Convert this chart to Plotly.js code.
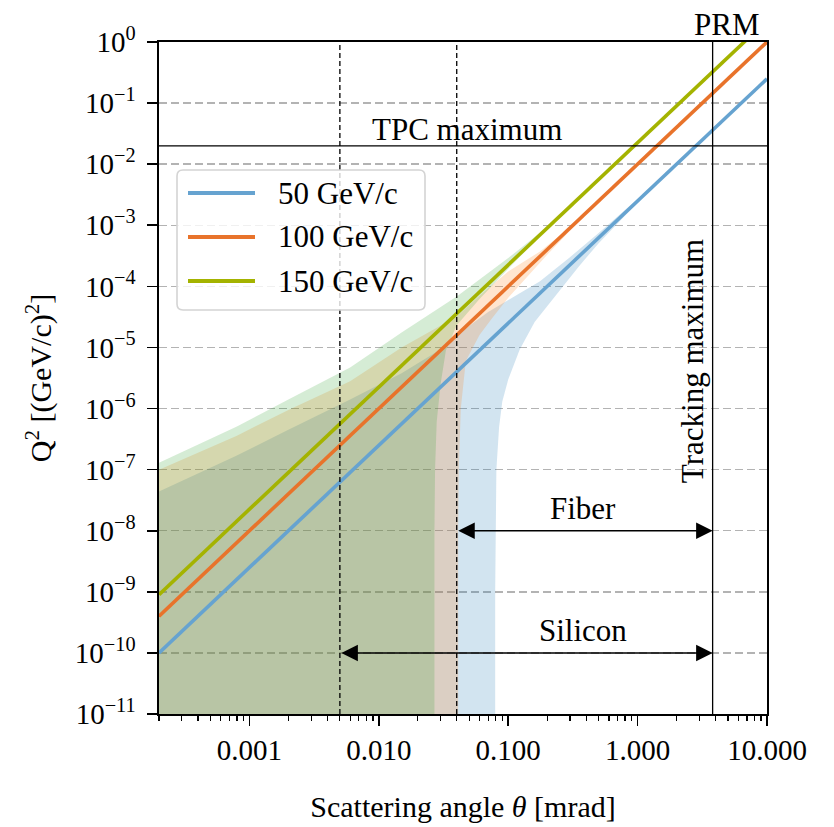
<!DOCTYPE html>
<html>
<head>
<meta charset="utf-8">
<script src="https://cdn.plot.ly/plotly-3.0.1.min.js"></script>
<style>
  html, body { margin: 0; padding: 0; background: #ffffff; }
  #chart { width: 834px; height: 827px; }
</style>
</head>
<body>
<div id="chart"></div>
<script>
// Beam momenta and their colours
const momentumLabels = ['50 GeV/c', '100 GeV/c', '150 GeV/c'];
const lineColors = ['#66a3d0', '#e8732b', '#a4b300'];
const bandColors = ['rgba(31,119,180,0.2)', 'rgba(255,127,14,0.2)', 'rgba(44,160,44,0.2)'];

// Central Q^2 vs scattering angle (mrad)
const lineTheta = [0.0002, 0.001, 0.01, 0.1, 1, 10];
const q2_50  = [1.0e-10, 2.5e-9, 2.5e-7, 2.5e-5, 2.5e-3, 0.25];
const q2_100 = [4.0e-10, 1.0e-8, 1.0e-6, 1.0e-4, 1.0e-2, 1.0];
const q2_150 = [9.0e-10, 2.25e-8, 2.25e-6, 2.25e-4, 2.25e-2, 2.25];

// Resolution bands: upper edge left to right, lower edge right to left
const band50UpperTheta = [0.0002, 0.0008, 0.002, 0.006, 0.015, 0.028, 0.04, 0.07, 0.12, 0.175, 0.3, 0.5, 1.0, 1.5];
const band50Upper      = [4.4e-8, 1.7e-7, 4.5e-7, 1.4e-6, 3.8e-6, 8.5e-6, 1.6e-5, 3.8e-5, 7.5e-5, 1.2e-4, 3.0e-4, 7.5e-4, 2.7e-3, 5.7e-3];
const band50LowerTheta = [1.5, 1.0, 0.5, 0.35, 0.22, 0.16, 0.1225, 0.1, 0.09, 0.085, 0.081, 0.0797, 0.0793, 0.0793];
const band50Lower      = [5.5e-3, 2.35e-3, 5.1e-4, 2.1e-4, 6.0e-5, 2.6e-5, 9.2e-6, 3.0e-6, 1.3e-6, 5.0e-7, 1.0e-7, 1.0e-8, 1.0e-9, 1.0e-13];

const band100UpperTheta = [0.0002, 0.0008, 0.002, 0.006, 0.015, 0.04, 0.06, 0.1, 0.175, 0.3, 0.4];
const band100Upper      = [1.0e-7, 3.6e-7, 9.5e-7, 2.8e-6, 1.0e-5, 3.2e-5, 7.0e-5, 1.75e-4, 3.7e-4, 9.3e-4, 1.6e-3];
const band100LowerTheta = [0.4, 0.2, 0.1, 0.075, 0.06, 0.047, 0.043, 0.0415, 0.041, 0.041];
const band100Lower      = [1.55e-3, 3.3e-4, 6.5e-5, 3.0e-5, 1.6e-5, 6.0e-6, 1.0e-6, 1.0e-7, 1.0e-8, 1.0e-13];

const band150UpperTheta = [0.0002, 0.0008, 0.002, 0.006, 0.015, 0.04, 0.06, 0.1, 0.2, 0.3];
const band150Upper      = [1.3e-7, 5.1e-7, 1.4e-6, 4.7e-6, 1.75e-5, 6.8e-5, 1.3e-4, 2.9e-4, 9.4e-4, 2.03e-3];
const band150LowerTheta = [0.3, 0.2, 0.1, 0.06, 0.04, 0.033, 0.03, 0.028, 0.0272, 0.0269, 0.0269];
const band150Lower      = [2.0e-3, 8.7e-4, 1.95e-4, 6.2e-5, 2.3e-5, 9.0e-6, 2.5e-6, 6.0e-7, 1.0e-7, 1.0e-8, 1.0e-13];

// Detector limits
const tpcMaxQ2 = 0.02;
const trackingMaxTheta = 3.8;
const siliconMinTheta = 0.005;
const fiberMinTheta = 0.04;
const fiberArrowQ2 = 1e-8;
const siliconArrowQ2 = 1e-10;

// Axis ticks
const xTickVals = [0.001, 0.01, 0.1, 1, 10];
const xTickText = ['0.001', '0.010', '0.100', '1.000', '10.000'];
const yTickVals = [1e0, 1e-1, 1e-2, 1e-3, 1e-4, 1e-5, 1e-6, 1e-7, 1e-8, 1e-9, 1e-10, 1e-11];
const yTickText = ['10<sup>0</sup>', '10<sup>−1</sup>', '10<sup>−2</sup>', '10<sup>−3</sup>', '10<sup>−4</sup>',
                   '10<sup>−5</sup>', '10<sup>−6</sup>', '10<sup>−7</sup>', '10<sup>−8</sup>', '10<sup>−9</sup>',
                   '10<sup>−10</sup>', '10<sup>−11</sup>'];

const thetaMin = 0.0002, thetaMax = 10;
const bandFloor = 1e-13;

// minor ticks on the angle axis: 2..9 in every decade
const xMinorVals = [];
for (let e = -4; e <= 0; e++) {
  for (let m = 2; m <= 9; m++) {
    const v = m * Math.pow(10, e);
    if (v >= thetaMin * 0.999 && v <= thetaMax) xMinorVals.push(v);
  }
}

function bandTrace(upT, up, loT, lo, color) {
  return {
    x: upT.concat(loT, [thetaMin]),
    y: up.concat(lo, [bandFloor]),
    mode: 'lines', fill: 'toself', fillcolor: color,
    line: { width: 0, color: color }, hoverinfo: 'skip', showlegend: false
  };
}

const traces = [
  bandTrace(band50UpperTheta, band50Upper, band50LowerTheta, band50Lower, bandColors[0]),
  bandTrace(band100UpperTheta, band100Upper, band100LowerTheta, band100Lower, bandColors[1]),
  bandTrace(band150UpperTheta, band150Upper, band150LowerTheta, band150Lower, bandColors[2]),
  { x: lineTheta, y: q2_50,  mode: 'lines', name: momentumLabels[0], line: { color: lineColors[0], width: 3.6 }, showlegend: false },
  { x: lineTheta, y: q2_100, mode: 'lines', name: momentumLabels[1], line: { color: lineColors[1], width: 3.6 }, showlegend: false },
  { x: lineTheta, y: q2_150, mode: 'lines', name: momentumLabels[2], line: { color: lineColors[2], width: 3.6 }, showlegend: false }
];

const FONT = 'Liberation Serif, Times New Roman, serif';
const L = 159, R = 67, T = 42, B = 113;
const W = 834, H = 827;
const pw = W - L - R, ph = H - T - B;
const px = v => (v - L) / pw;          // pixel -> paper x
const py = v => 1 - (v - T) / ph;      // pixel -> paper y
const lg = Math.log10;

// legend box with rounded corners
const bx0 = px(177), bx1 = px(425), by0 = py(310), by1 = py(170);
const rx = 6 / pw, ry = 6 / ph;
const boxPath = `M${bx0 + rx},${by0} L${bx1 - rx},${by0} Q${bx1},${by0} ${bx1},${by0 + ry} ` +
  `L${bx1},${by1 - ry} Q${bx1},${by1} ${bx1 - rx},${by1} L${bx0 + rx},${by1} Q${bx0},${by1} ${bx0},${by1 - ry} ` +
  `L${bx0},${by0 + ry} Q${bx0},${by0} ${bx0 + rx},${by0} Z`;
const legendRowsY = [193, 237, 281];

const shapes = [
  { type: 'line', xref: 'paper', x0: 0, x1: 1, yref: 'y', y0: tpcMaxQ2, y1: tpcMaxQ2, line: { color: 'black', width: 1.3 } },
  { type: 'line', xref: 'x', x0: trackingMaxTheta, x1: trackingMaxTheta, yref: 'paper', y0: 0, y1: 1, line: { color: 'black', width: 1.3 } },
  { type: 'line', xref: 'x', x0: siliconMinTheta, x1: siliconMinTheta, yref: 'paper', y0: 0, y1: 1, line: { color: 'black', width: 1.3, dash: '5px,3px' } },
  { type: 'line', xref: 'x', x0: fiberMinTheta, x1: fiberMinTheta, yref: 'paper', y0: 0, y1: 1, line: { color: 'black', width: 1.3, dash: '5px,3px' } },
  { type: 'path', xref: 'paper', yref: 'paper', path: boxPath, fillcolor: 'rgba(255,255,255,0.8)', line: { color: '#d4d4d4', width: 1.6 } }
];
legendRowsY.forEach((yy, i) => {
  shapes.push({ type: 'line', xref: 'paper', yref: 'paper', x0: px(188), x1: px(255), y0: py(yy), y1: py(yy),
                line: { color: lineColors[i], width: 3.8 } });
});

const annFont = { family: FONT, size: 31, color: 'black' };
const annotations = [
  { x: lg(0.048), y: lg(tpcMaxQ2), xref: 'x', yref: 'y', text: 'TPC maximum', showarrow: false,
    xanchor: 'center', yanchor: 'bottom', yshift: -3, font: annFont },
  { x: lg(trackingMaxTheta), y: lg(6e-6), xref: 'x', yref: 'y', text: 'Tracking maximum', showarrow: false,
    textangle: -90, xanchor: 'right', yanchor: 'middle', xshift: -1, font: annFont },
  { x: lg(4.9), y: 1, xref: 'x', yref: 'paper', text: 'PRM', showarrow: false,
    xanchor: 'center', yanchor: 'bottom', yshift: -2, font: annFont },
  { x: lg(0.38), y: lg(fiberArrowQ2), xref: 'x', yref: 'y', text: 'Fiber', showarrow: false,
    xanchor: 'center', yanchor: 'bottom', yshift: 3, font: annFont },
  { x: lg(0.38), y: lg(siliconArrowQ2), xref: 'x', yref: 'y', text: 'Silicon', showarrow: false,
    xanchor: 'center', yanchor: 'bottom', yshift: 3, font: annFont },
  { x: lg(trackingMaxTheta), y: lg(fiberArrowQ2), ax: lg(fiberMinTheta), ay: lg(fiberArrowQ2),
    xref: 'x', yref: 'y', axref: 'x', ayref: 'y', text: '', showarrow: true,
    arrowhead: 2, startarrowhead: 2, arrowside: 'end+start', arrowsize: 2.2, startarrowsize: 2.2,
    arrowwidth: 1.5, arrowcolor: 'black', standoff: 0, startstandoff: 0 },
  { x: lg(trackingMaxTheta), y: lg(siliconArrowQ2), ax: lg(siliconMinTheta), ay: lg(siliconArrowQ2),
    xref: 'x', yref: 'y', axref: 'x', ayref: 'y', text: '', showarrow: true,
    arrowhead: 2, startarrowhead: 2, arrowside: 'end+start', arrowsize: 2.2, startarrowsize: 2.2,
    arrowwidth: 1.5, arrowcolor: 'black', standoff: 0, startstandoff: 0 }
];
legendRowsY.forEach((yy, i) => {
  annotations.push({ x: px(276), y: py(yy), xref: 'paper', yref: 'paper', text: momentumLabels[i],
                     showarrow: false, xanchor: 'left', yanchor: 'middle', font: annFont });
});

const tickFont = { family: FONT, size: 29, color: 'black' };
const layout = {
  width: W, height: H,
  margin: { l: L, r: R, t: T, b: B, pad: 0 },
  paper_bgcolor: 'white', plot_bgcolor: 'white',
  showlegend: false,
  font: { family: FONT, size: 29, color: 'black' },
  xaxis: {
    type: 'log', range: [lg(thetaMin), lg(thetaMax)],
    tickmode: 'array', tickvals: xTickVals, ticktext: xTickText,
    ticks: 'outside', ticklen: 10, tickwidth: 1.6, tickcolor: 'black',
    minor: { tickmode: 'array', tickvals: xMinorVals, ticks: 'outside', ticklen: 5, tickwidth: 1.2, tickcolor: 'black', showgrid: false },
    showline: true, linecolor: 'black', linewidth: 1.6, mirror: true,
    showgrid: false, zeroline: false, tickfont: tickFont, ticklabelstandoff: 0,
    title: { text: 'Scattering angle <i>θ</i> [mrad]', font: { family: FONT, size: 30, color: 'black' }, standoff: 30 }
  },
  yaxis: {
    type: 'log', range: [-11, 0],
    tickmode: 'array', tickvals: yTickVals, ticktext: yTickText,
    ticks: 'outside', ticklen: 10, tickwidth: 1.6, tickcolor: 'black',
    showline: true, linecolor: 'black', linewidth: 1.6, mirror: true,
    showgrid: true, gridcolor: '#b3b3b3', gridwidth: 1.5, griddash: '8px,4px',
    zeroline: false, tickfont: tickFont, ticklabelstandoff: 6,
    title: { text: 'Q<sup>2</sup> [(GeV/c)<sup>2</sup>]', font: { family: FONT, size: 30, color: 'black' }, standoff: 14 }
  },
  shapes: shapes,
  annotations: annotations
};

Plotly.newPlot('chart', traces, layout, { displayModeBar: false, staticPlot: true });
</script>
</body>
</html>
